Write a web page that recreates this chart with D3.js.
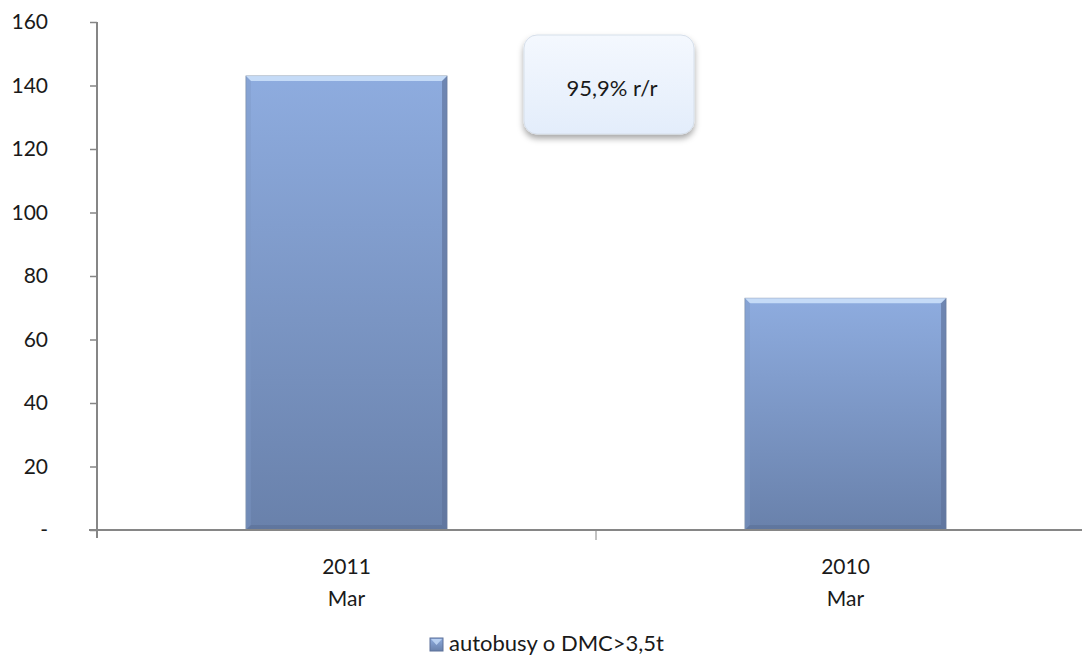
<!DOCTYPE html>
<html>
<head>
<meta charset="utf-8">
<script src="https://cdn.jsdelivr.net/npm/d3@7"></script>
<style>
  body { margin: 0; background: #fff; }
  text { font-family: Lato, "Open Sans", sans-serif; fill: #1a1a1a; }
</style>
</head>
<body>
<div id="chart"></div>
<script>
var categories = [["2011", "Mar"], ["2010", "Mar"]];
var values = [143, 73];
var yTicks = [0, 20, 40, 60, 80, 100, 120, 140, 160];
var seriesName = "autobusy o DMC>3,5t";
var note = "95,9% r/r";

var width = 1082, height = 658;
var margin = {top: 22, left: 97, bottom: 128};

var svg = d3.select("#chart").append("svg")
  .attr("width", width)
  .attr("height", height);

var defs = svg.append("defs");
var grad = defs.append("linearGradient").attr("id", "barGrad")
  .attr("x1", 0).attr("y1", 0).attr("x2", 0).attr("y2", 1);
grad.append("stop").attr("offset", "0%").attr("stop-color", "#8eacdf");
grad.append("stop").attr("offset", "100%").attr("stop-color", "#6981ab");

var boxGrad = defs.append("linearGradient").attr("id", "boxGrad")
  .attr("x1", 0).attr("y1", 0).attr("x2", 0).attr("y2", 1);
boxGrad.append("stop").attr("offset", "0%").attr("stop-color", "#f4f8fe");
boxGrad.append("stop").attr("offset", "100%").attr("stop-color", "#e3edfb");

var shadow = defs.append("filter").attr("id", "shadow")
  .attr("x", "-20%").attr("y", "-20%").attr("width", "140%").attr("height", "150%");
shadow.append("feDropShadow").attr("dx", 0).attr("dy", 4).attr("stdDeviation", 3)
  .attr("flood-color", "#000").attr("flood-opacity", 0.35);

var x = d3.scaleBand()
  .domain(categories.map(function(d) { return d[0]; }))
  .range([margin.left, margin.left + 998]);

var y = d3.scaleLinear()
  .domain([0, 160])
  .range([height - margin.bottom, margin.top]);

var barW = x.bandwidth() * 0.403;

// bars
var bars = svg.append("g").selectAll("g")
  .data(values)
  .enter().append("g")
  .attr("transform", function(d, i) {
    return "translate(" + (x(categories[i][0]) + (x.bandwidth() - barW) / 2) + "," + y(d) + ")";
  });

bars.append("rect")
  .attr("width", barW)
  .attr("height", function(d) { return y(0) - y(d); })
  .attr("fill", "url(#barGrad)")
  .attr("stroke", "#7d8ea8")
  .attr("stroke-width", 0.8);

var bev = 5;
// top bevel highlight
bars.append("path")
  .attr("d", function(d) {
    return "M0,0 L" + barW + ",0 L" + (barW - bev) + "," + bev + " L" + bev + "," + bev + "Z";
  })
  .attr("fill", "#cfe3fb").attr("opacity", 0.85);
// left bevel
bars.append("path")
  .attr("d", function(d) {
    var h = y(0) - y(d);
    return "M0,0 L" + bev + "," + bev + " L" + bev + "," + (h - bev) + " L0," + h + "Z";
  })
  .attr("fill", "#7d98c6").attr("opacity", 0.4);
// right bevel
bars.append("path")
  .attr("d", function(d) {
    var h = y(0) - y(d);
    return "M" + barW + ",0 L" + (barW - bev) + "," + bev + " L" + (barW - bev) + "," + (h - bev) + " L" + barW + "," + h + "Z";
  })
  .attr("fill", "#5d7199").attr("opacity", 0.65);
// bottom bevel
bars.append("path")
  .attr("d", function(d) {
    var h = y(0) - y(d);
    return "M0," + h + " L" + bev + "," + (h - bev) + " L" + (barW - bev) + "," + (h - bev) + " L" + barW + "," + h + "Z";
  })
  .attr("fill", "#5a6f96").attr("opacity", 0.6);

// y axis
var yAxis = svg.append("g")
  .attr("transform", "translate(" + margin.left + ",0)")
  .call(d3.axisLeft(y).tickValues(yTicks).tickSize(7).tickPadding(42)
    .tickFormat(function(d) { return d === 0 ? "-" : d; }));
yAxis.select(".domain").attr("stroke", "#868686").attr("stroke-width", 2)
  .attr("d", "M0," + margin.top + "V" + (y(0) + 8));
yAxis.selectAll(".tick line").attr("stroke", "#868686").attr("stroke-width", 1.5);
yAxis.selectAll(".tick text").attr("font-size", 21).attr("fill", "#1a1a1a")
  .style("font-family", "Lato, 'Open Sans', sans-serif");

// x axis
var xAxis = svg.append("g")
  .attr("transform", "translate(0," + y(0) + ")");
xAxis.append("line")
  .attr("x1", margin.left - 8).attr("x2", width)
  .attr("stroke", "#868686").attr("stroke-width", 2);
xAxis.selectAll(".sep")
  .data(categories.slice(1))
  .enter().append("line")
  .attr("x1", function(d) { return x(d[0]); })
  .attr("x2", function(d) { return x(d[0]); })
  .attr("y1", 0).attr("y2", 10)
  .attr("stroke", "#868686").attr("stroke-width", 1);

var xl = svg.append("g").selectAll("text")
  .data(categories)
  .enter().append("text")
  .attr("x", function(d) { return x(d[0]) + x.bandwidth() / 2; })
  .attr("y", 574)
  .attr("text-anchor", "middle")
  .attr("font-size", 21);
xl.append("tspan").text(function(d) { return d[0]; });
xl.append("tspan")
  .attr("x", function(d) { return x(d[0]) + x.bandwidth() / 2; })
  .attr("dy", 32)
  .text(function(d) { return d[1]; });

// annotation box
svg.append("rect")
  .attr("x", 524).attr("y", 35).attr("width", 170).attr("height", 99)
  .attr("rx", 13).attr("ry", 13)
  .attr("fill", "url(#boxGrad)")
  .attr("stroke", "#d6dfea").attr("stroke-width", 1)
  .attr("filter", "url(#shadow)");
svg.append("text")
  .attr("x", 612).attr("y", 96)
  .attr("text-anchor", "middle")
  .attr("font-size", 22)
  .text(note);

// legend
var lg = svg.append("g").attr("transform", "translate(430,638)");
lg.append("rect").attr("width", 13).attr("height", 13)
  .attr("fill", "url(#barGrad)").attr("stroke", "#5d7199").attr("stroke-width", 1);
lg.append("path").attr("d", "M1,1 L12,1 L6.5,7 Z").attr("fill", "#c4dbf8").attr("opacity", 0.8);
lg.append("text").attr("x", 19).attr("y", 13).attr("font-size", 22).text(seriesName);
</script>
</body>
</html>
